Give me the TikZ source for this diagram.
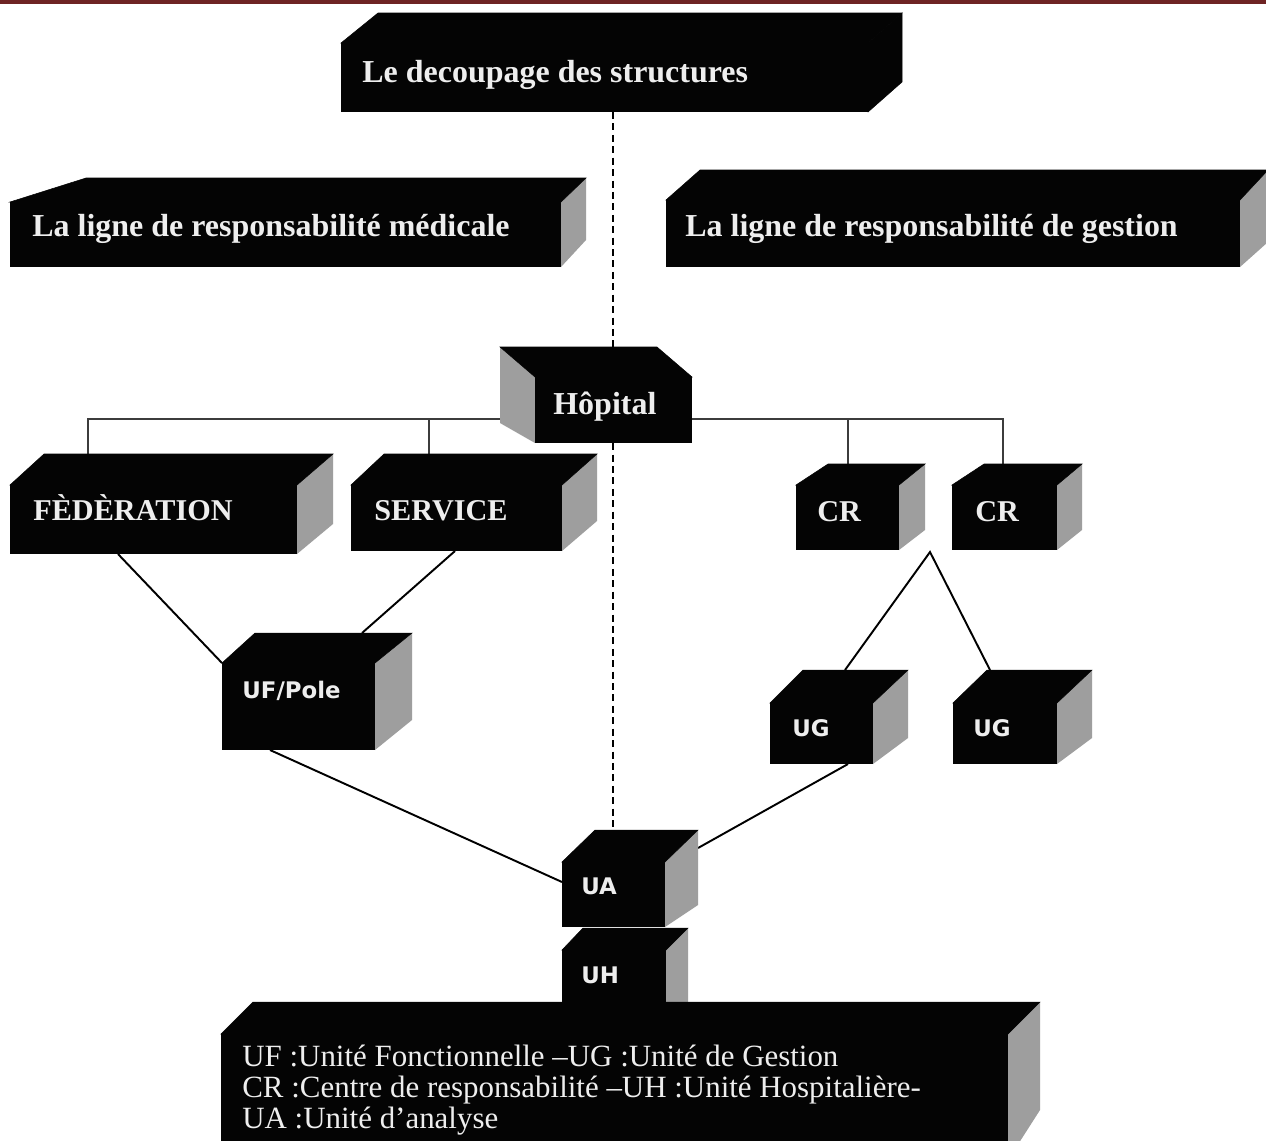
\documentclass[tikz,border=0pt]{standalone}
\usepackage{fontspec}
\setmainfont{Liberation Serif}
\newfontfamily\unitfont{DejaVu Sans}
\usetikzlibrary{calc}
\pgfdeclarelayer{paper}
\pgfdeclarelayer{links}
\pgfsetlayers{paper,links,main}

\definecolor{barred}{RGB}{110,36,36}
\definecolor{boxblack}{RGB}{4,4,4}
\definecolor{sidegrey}{RGB}{158,158,158}
\definecolor{labelwhite}{RGB}{238,238,238}
\definecolor{treegrey}{RGB}{60,60,60}

\tikzset{
  frontface/.style={fill=boxblack, draw=none, inner sep=0pt, outer sep=0pt},
  topface/.style={fill=boxblack, draw=boxblack, line width=0.3pt},
  sideface/.style={fill=sidegrey},
  headtext/.style={text=labelwhite, inner sep=0pt, anchor=base west,
    font=\bfseries\fontsize{18.2}{20}\selectfont},
  captext/.style={text=labelwhite, inner sep=0pt, anchor=base west,
    font=\bfseries\fontsize{17.2}{20}\selectfont},
  unittext/.style={text=labelwhite, inner sep=0pt, anchor=base west,
    font=\unitfont\bfseries\fontsize{13}{15}\selectfont},
  legendtext/.style={text=labelwhite, inner sep=0pt, anchor=base west,
    font=\fontsize{17.6}{17.6}\selectfont},
  link/.style={line width=1.1pt, black},
  treelink/.style={line width=1.2pt, treegrey},
  axisline/.style={line width=0.9pt, black, dash pattern=on 4pt off 2.5pt},
}

% A block: front face (#2,#3)-(#4,#5), top face going back to y=#8 between
% x=#6 and x=#7, right side face going down to y=#9 at the back.
\newcommand\slab[9]{%
  \fill[sideface] (#4,#3) -- (#7,#8) -- (#7,#9) -- (#4,#5) -- cycle;
  \filldraw[topface] (#2,#3) -- (#6,#8) -- (#7,#8) -- (#4,#3) -- cycle;
  \node[frontface, anchor=north west,
        minimum width={(#4-#2)*0.02cm}, minimum height={(#5-#3)*0.02cm}]
        (#1) at (#2,#3) {};
}

\begin{document}
\begin{tikzpicture}[x=0.02cm, y=-0.02cm]
\useasboundingbox (0,0) rectangle (1266,1140);
\clip (0,0) rectangle (1266,1140);
\begin{pgfonlayer}{paper}
  \fill[white] (0,0) rectangle (1266,1140);
\end{pgfonlayer}
\fill[barred] (0,0) rectangle (1266,3.5);

% ---- header blocks
\begin{scope}[sideface/.style={fill=boxblack, draw=boxblack, line width=0.3pt}]
  \slab{head}{341}{43}{868}{112}{378}{902}{13}{82}
\end{scope}
\node[headtext] (t-head) at (362,82) {Le decoupage des structures};

\slab{med}{10}{202}{561}{267}{86}{586}{178}{240}
\node[headtext] (t-med) at (32,236) {La ligne de responsabilit\'e m\'edicale};

\slab{ges}{666}{200}{1240}{267}{700}{1268}{170}{242}
\node[headtext] (t-ges) at (685,236) {La ligne de responsabilit\'e de gestion};

% ---- hospital block (depth towards the upper left)
\fill[sideface] (500,347) -- (535,377) -- (535,443) -- (500,423) -- cycle;
\filldraw[topface] (500,347) -- (657,347) -- (692,377) -- (535,377) -- cycle;
\node[frontface, anchor=north west, minimum width={157*0.02cm},
      minimum height={66*0.02cm}] (hop) at (535,377) {};
\node[headtext] (t-hop) at (553,414) {H\^opital};

% ---- medical line
\slab{fed}{10}{485}{297}{554}{44}{333}{454}{524}
\node[captext] (t-fed) at (33,520) {F\`ED\`ERATION};
\slab{svc}{351}{485}{562}{551}{384}{597}{454}{521}
\node[captext] (t-svc) at (374,520) {SERVICE};
\slab{uf}{222}{663}{375}{750}{255}{412}{633}{720}
\node[unittext] (t-uf) at (242,698) {UF/Pole};

% ---- management line
\slab{cr1}{796}{485}{899}{550}{828}{925}{464}{530}
\node[captext] (t-cr1) at (817,521) {CR};
\slab{cr2}{952}{485}{1057}{550}{984}{1082}{464}{530}
\node[captext] (t-cr2) at (975,521) {CR};
\slab{ug1}{770}{703}{873}{764}{803}{908}{670}{738}
\node[unittext] (t-ug1) at (792,736) {UG};
\slab{ug2}{953}{703}{1057}{764}{987}{1092}{670}{738}
\node[unittext] (t-ug2) at (973,736) {UG};

% ---- analysis units and legend
\slab{uh}{562}{950}{666}{1040}{583}{688}{928}{1015}
\node[unittext] (t-uh) at (581,983) {UH};
\slab{ua}{562}{862}{665}{927}{595}{698}{830}{905}
\node[unittext] (t-ua) at (581,894) {UA};
\slab{leg}{221}{1034}{1008}{1160}{253}{1040}{1002}{1110}
\node[legendtext] (leg1) at (242,1066) {UF :Unit\'e Fonctionnelle \textendash UG :Unit\'e de Gestion};
\node[legendtext] (leg2) at (242,1097) {CR :Centre de responsabilit\'e \textendash UH :Unit\'e Hospitali\`ere-};
\node[legendtext] (leg3) at (242,1128) {UA :Unit\'e d\textquoteright analyse};

% ---- connection points
\coordinate (hop-bar) at (613,419);
\coordinate (fed-up) at (88,455);
\coordinate (svc-up) at (429,455);
\coordinate (cr1-up) at (848,465);
\coordinate (cr2-up) at (1003,465);
\coordinate (fed-foot) at (118,554);
\coordinate (svc-foot) at (455,551);
\coordinate (uf-back) at (362,633);
\coordinate (uf-foot) at (270,750);
\coordinate (ua-left) at (562,882);
\coordinate (ua-right) at (698,848);
\coordinate (ua-top) at (613,830);
\coordinate (head-foot) at (613,112);
\coordinate (cr-fork) at (930,552);
\coordinate (ug1-top) at (845,670);
\coordinate (ug2-top) at (990,670);
\coordinate (ug1-foot) at (848,764);

\begin{pgfonlayer}{links}
  \draw[axisline] (head-foot) -- (ua-top);
  \draw[treelink] (fed-up) -- (fed-up |- hop-bar) -- (cr2-up |- hop-bar) -- (cr2-up);
  \draw[treelink] (svc-up) -- (svc-up |- hop-bar);
  \draw[treelink] (cr1-up) -- (cr1-up |- hop-bar);
  \draw[link] (fed-foot) -- (uf.north west);
  \draw[link] (svc-foot) -- (uf-back);
  \draw[link] (uf-foot) -- (ua-left);
  \draw[link] (ug1-top) -- (cr-fork) -- (ug2-top);
  \draw[link] (ug1-foot) -- (ua-right);
\end{pgfonlayer}
\end{tikzpicture}
\end{document}
